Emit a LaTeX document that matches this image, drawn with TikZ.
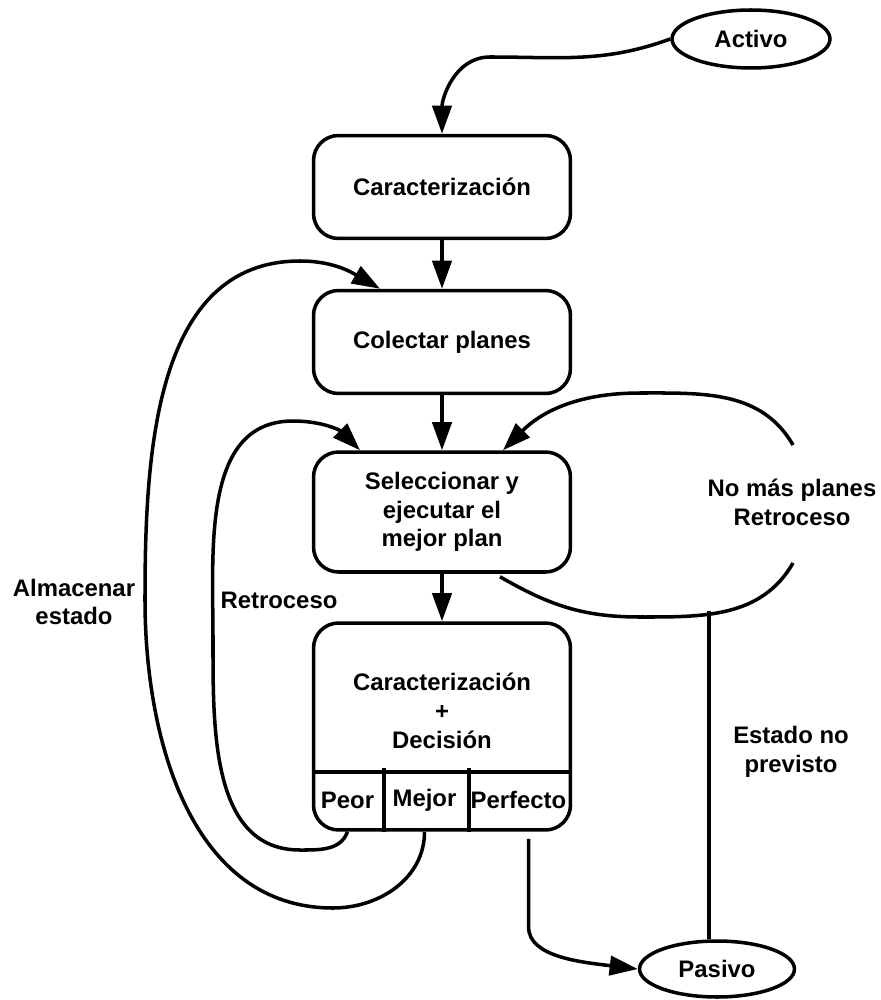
\documentclass[tikz,border=0pt]{standalone}
\usepackage{fontspec}
\setmainfont{Liberation Sans}
\usetikzlibrary{shapes.geometric,arrows.meta,calc}
\begin{document}
\begin{tikzpicture}[x=0.02cm,y=-0.02cm,
  line width=2pt,
  every node/.style={font=\fontsize{13.6}{16.4}\selectfont\bfseries, align=center},
  box/.style={draw, rounded corners=0.5cm, minimum width=5.14cm, inner sep=0pt},
  oval/.style={draw, ellipse, inner sep=0pt},
  cell/.style={inner sep=0pt, minimum height=1.2cm},
  arr/.style={-{Triangle[length=16pt,width=11pt]}}
]
\useasboundingbox (0,0) rectangle (881,1000);

\node[oval, minimum width=3.16cm, minimum height=1.16cm] (act) at (751,39) {Activo};
\node[oval, minimum width=3.1cm, minimum height=1.12cm] (pas) at (717,969) {Pasivo};

\node[box, minimum height=2.06cm] (cara) at (442,187) {Caracterización};
\node[box, minimum height=2.06cm] (cole) at (442,342) {Colectar planes};
\node[box, minimum height=2.4cm] (sel) at (442,512) {Seleccionar y\\ejecutar el\\mejor plan};
\node[box, minimum height=4.14cm] (dec) at (442,726.5) {};
\node (dect) at (442,711) {Caracterización\\+\\Decisión};

\node[cell, minimum width=1.38cm] (peor) at (347.5,800) {Peor};
\node[cell, minimum width=1.7cm] (mejor) at (424.5,800) {Mejor};
\node[cell, minimum width=2.06cm] (perf) at (518.5,800) {Perfecto};

\draw ($(dec.south west)+(0,-60)$) -- ($(dec.south east)+(0,-60)$);
\draw (peor.north east) -- (peor.south east);
\draw (mejor.north east) -- (mejor.south east);

\node (alm) at (74,602) {Almacenar\\estado};
\node (retl) at (279,600) {Retroceso};
\node (nomas) at (792,502) {No más planes\\Retroceso};
\node (estado) at (791,752) {Estado no\\previsto};

\draw[arr] (act.west) to[out=200,in=0] (490,57) to[out=180,in=90] (cara.north);
\draw[arr] (cara) -- (cole);
\draw[arr] (cole) -- (sel);
\draw[arr] (sel) -- (dec);

\draw[arr] (mejor.south) to[out=-90,in=0] (333,908) to[out=180,in=-90] (145,600)
  to[out=90,in=180] (300,261) to[out=0,in=150] ($(cole.north)+(-62,0)$);

\draw[arr] (peor.south) to[out=-110,in=0] (300,850) to[out=180,in=-90] (213,640)
  to[out=90,in=180] (293,421) to[out=0,in=135] ($(sel.north)+(-82,0)$);

\coordinate (r1) at (793,445);
\coordinate (r2) at (793,563);
\draw[arr] (r1) to[out=120,in=0] (640,393) to[out=180,in=45] ($(sel.north)+(61,0)$);
\draw ($(sel.south)+(58,3)$) to[out=-30,in=180] (640,617) to[out=0,in=-120] (r2);

\coordinate (junc) at (709,611);
\draw (junc) -- (junc |- pas.north);

\draw[arr] ($(perf.south)+(10,7)$) -- ++(0,88) .. controls +(0,30) and (580,962) .. (pas.west);
\end{tikzpicture}
\end{document}
